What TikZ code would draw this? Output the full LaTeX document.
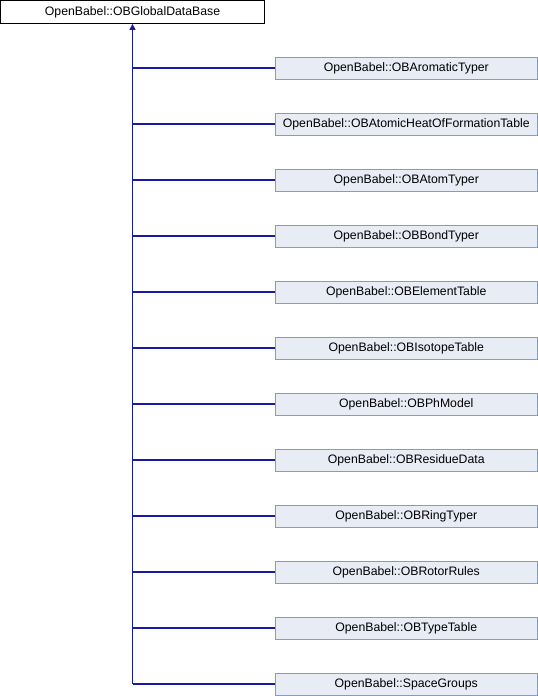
\documentclass[tikz,border=0pt]{standalone}
\usepackage{fontspec}
\setmainfont{Liberation Sans}
\usetikzlibrary{arrows.meta}
\definecolor{edgeblue}{HTML}{1A1AA0}
\definecolor{boxfill}{HTML}{E8ECF5}
\definecolor{boxline}{HTML}{7F9BD0}
\begin{document}
\begin{tikzpicture}[x=0.75pt,y=-0.75pt,
  basebox/.style={draw=black,line width=0.75pt,fill=white,minimum width=263.25*0.75pt,minimum height=22.5*0.75pt,inner sep=0pt,font=\fontsize{9.2}{11}\selectfont},
  childbox/.style={draw=boxline,line width=0.75pt,fill=boxfill,minimum width=262.5*0.75pt,minimum height=22*0.75pt,inner sep=0pt,font=\fontsize{9.2}{11}\selectfont},
  inh/.style={draw=edgeblue,line width=0.9pt},
  tipend/.style={-{Triangle[length=4.5pt,width=4.5pt]}}]
\useasboundingbox (0,0) rectangle (538,696);
\node[basebox,anchor=north west] (base) at (0.4,0.4) {OpenBabel::OBGlobalDataBase};
\coordinate (trunk) at (132.5,684);
\foreach \n/\t [count=\i from 0] in {
 c1/OBAromaticTyper,
 c2/OBAtomicHeatOfFormationTable,
 c3/OBAtomTyper,
 c4/OBBondTyper,
 c5/OBElementTable,
 c6/OBIsotopeTable,
 c7/OBPhModel,
 c8/OBResidueData,
 c9/OBRingTyper,
 c10/OBRotorRules,
 c11/OBTypeTable,
 c12/SpaceGroups}{
  \node[childbox,anchor=west] (\n) at (274.5,{68+56*\i}) {OpenBabel::\t};
  \coordinate (j\n) at (132.5,{68+56*\i});
  \draw[inh] (j\n) -- (\n.west);
}
\draw[inh,tipend] (trunk) -- (base.south -| trunk);
\end{tikzpicture}
\end{document}
